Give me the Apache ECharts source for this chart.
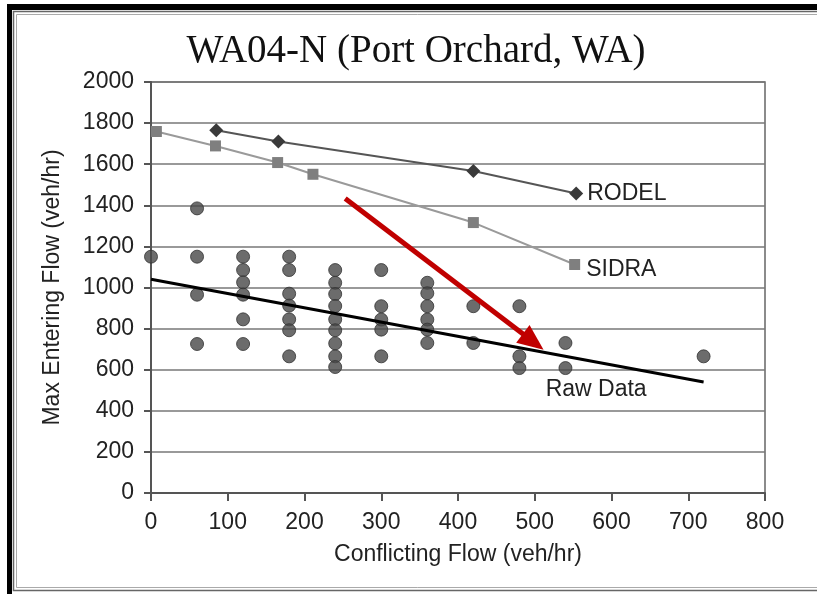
<!DOCTYPE html>
<html>
<head>
<meta charset="utf-8">
<script src="https://cdn.jsdelivr.net/npm/echarts@6/dist/echarts.min.js"></script>
<style>
  html, body { margin: 0; padding: 0; background: #fff; }
  #chart { width: 817px; height: 594px; }
</style>
</head>
<body>
<div id="chart"></div>
<script>
// raw data points [conflicting flow, max entering flow]
var rawData = [
  [0, 1150],
  [60, 1385], [60, 1150], [60, 965], [60, 725],
  [120, 1150], [120, 1085], [120, 1025], [120, 965], [120, 845], [120, 725],
  [180, 1150], [180, 1085], [180, 970], [180, 912], [180, 845], [180, 792], [180, 665],
  [240, 1085], [240, 1023], [240, 968], [240, 910], [240, 845], [240, 792], [240, 728], [240, 665], [240, 613],
  [300, 1085], [300, 909], [300, 844], [300, 795], [300, 665],
  [360, 1023], [360, 972], [360, 909], [360, 844], [360, 795], [360, 730],
  [420, 909], [420, 730],
  [480, 909], [480, 665], [480, 608],
  [540, 730], [540, 608],
  [720, 665]
];

var rodelX = [85, 166, 420, 554];
var rodelY = [1765, 1710, 1567, 1457];

var sidraX = [7, 84, 165, 211, 420, 552];
var sidraY = [1759, 1689, 1608, 1551, 1316, 1112];

// fitted line through raw data
var fitX = [0, 720];
var fitY = [1040, 540];

// red arrow (end = centre of the triangle head)
var arrowFrom = [253, 1433];
var arrowTo = [498, 736];

var rawLabelAt = [580, 505];

var pairs = function(xs, ys) {
  var out = [];
  for (var i = 0; i < xs.length; i++) {
    out.push([xs[i], ys[i]]);
  }
  return out;
};

var font = 'Liberation Sans, Arial, sans-serif';

var myChart = echarts.init(document.getElementById('chart'));

var option = {
  backgroundColor: '#fff',
  animation: false,
  title: {
    text: 'WA04-N (Port Orchard, WA)',
    left: 416,
    top: 32,
    padding: 0,
    textAlign: 'center',
    textStyle: {
      fontFamily: 'Liberation Serif, Times New Roman, serif',
      fontSize: 39,
      fontWeight: 'normal',
      color: '#111'
    }
  },
  graphic: [
    // photo frame
    { type: 'rect', shape: { x: 7, y: 4, width: 820, height: 6 }, style: { fill: '#000' } },
    { type: 'rect', shape: { x: 7, y: 4, width: 5, height: 600 }, style: { fill: '#000' } },
    { type: 'rect', shape: { x: 13.5, y: 11.5, width: 820, height: 579 }, style: { fill: 'none', stroke: '#666', lineWidth: 1.5 } },
    { type: 'rect', shape: { x: 16.5, y: 14.5, width: 820, height: 573 }, style: { fill: 'none', stroke: '#aaa', lineWidth: 1 } }
  ],
  grid: {
    left: 151,
    right: 52,
    top: 82,
    bottom: 101,
    show: true,
    borderColor: '#666',
    borderWidth: 1.5
  },
  xAxis: {
    type: 'value',
    min: 0,
    max: 800,
    interval: 100,
    name: 'Conflicting Flow (veh/hr)',
    nameLocation: 'middle',
    nameGap: 50,
    nameTextStyle: { fontFamily: font, fontSize: 23, color: '#222' },
    axisLine: { show: true, lineStyle: { color: '#555', width: 2 } },
    axisTick: { show: true, inside: false, length: 8, lineStyle: { color: '#555', width: 2 } },
    axisLabel: { margin: 18, fontFamily: font, fontSize: 23, color: '#222', formatter: '{value}' },
    splitLine: { show: false }
  },
  yAxis: {
    type: 'value',
    min: 0,
    max: 2000,
    interval: 200,
    name: 'Max Entering Flow (veh/hr)',
    nameLocation: 'middle',
    nameGap: 87,
    nameTextStyle: { fontFamily: font, fontSize: 23, color: '#222' },
    axisLine: { show: true, lineStyle: { color: '#555', width: 2 } },
    axisTick: { show: true, inside: false, length: 7, lineStyle: { color: '#555', width: 2 } },
    axisLabel: {
      margin: 17, fontFamily: font, fontSize: 23, color: '#222',
      formatter: function(v) { return String(v); }
    },
    splitLine: { show: true, lineStyle: { color: '#777', width: 1.5 } }
  },
  series: [
    {
      name: 'Raw Data',
      type: 'scatter',
      data: rawData,
      symbol: 'circle',
      symbolSize: 13,
      itemStyle: { color: '#474747', borderColor: '#333', borderWidth: 1 },
      z: 3
    },
    {
      name: 'Fit',
      type: 'line',
      data: pairs(fitX, fitY),
      symbol: 'none',
      lineStyle: { color: '#000', width: 3 },
      z: 4,
      markPoint: {
        symbol: 'circle',
        symbolSize: 0,
        label: {
          show: true,
          formatter: 'Raw Data',
          fontFamily: font,
          fontSize: 23,
          color: '#222'
        },
        data: [{ coord: rawLabelAt }]
      }
    },
    {
      name: 'SIDRA',
      type: 'line',
      data: pairs(sidraX, sidraY),
      symbol: 'rect',
      symbolSize: 11,
      itemStyle: { color: '#7f7f7f' },
      lineStyle: { color: '#9a9a9a', width: 2 },
      label: {
        show: true,
        position: 'right',
        distance: 6,
        offset: [0, 5],
        fontFamily: font,
        fontSize: 23,
        color: '#222',
        formatter: function(p) {
          return p.dataIndex === sidraX.length - 1 ? 'SIDRA' : '';
        }
      },
      z: 5
    },
    {
      name: 'RODEL',
      type: 'line',
      data: pairs(rodelX, rodelY),
      symbol: 'diamond',
      symbolSize: 14,
      itemStyle: { color: '#3a3a3a' },
      lineStyle: { color: '#555', width: 2 },
      label: {
        show: true,
        position: 'right',
        distance: 4,
        fontFamily: font,
        fontSize: 23,
        color: '#222',
        formatter: function(p) {
          return p.dataIndex === rodelX.length - 1 ? 'RODEL' : '';
        }
      },
      z: 5
    },
    {
      name: 'Arrow',
      type: 'line',
      data: [],
      markLine: {
        silent: true,
        symbol: ['none', 'triangle'],
        symbolSize: [22, 26],
        label: { show: false },
        lineStyle: { color: '#c00000', width: 5, type: 'solid' },
        data: [[{ coord: arrowFrom }, { coord: arrowTo }]]
      },
      z: 6
    }
  ]
};

myChart.setOption(option);
</script>
</body>
</html>
